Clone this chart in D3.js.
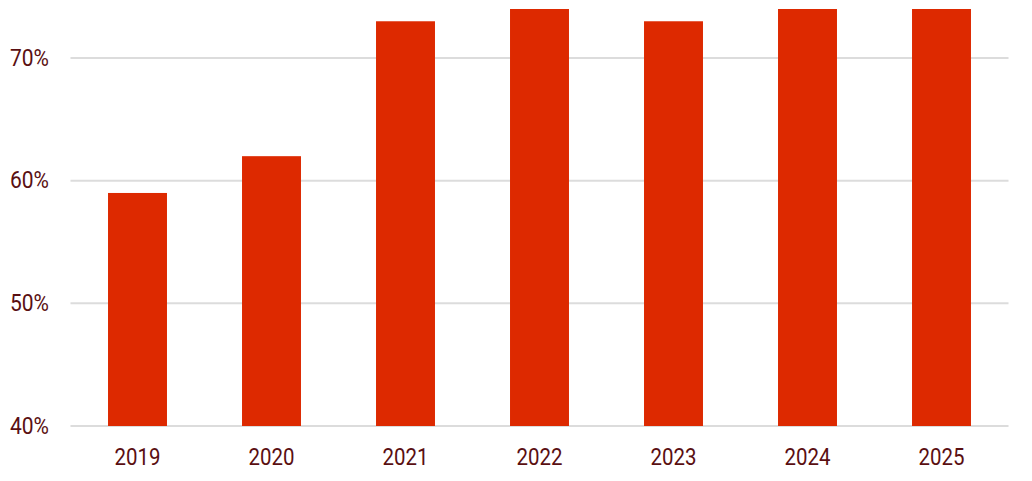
<!DOCTYPE html>
<html>
<head>
<meta charset="utf-8">
<script src="https://cdn.jsdelivr.net/npm/d3@7"></script>
<style>
  html, body { margin: 0; padding: 0; background: #ffffff; }
  svg { display: block; }
  text { font-family: Roboto, "Noto Sans", sans-serif; fill: #5a0f12; }
</style>
</head>
<body>
<svg id="chart" width="1032" height="481"></svg>
<script>
const years = ["2019", "2020", "2021", "2022", "2023", "2024", "2025"];
const shares = [59, 62, 73, 74, 73, 74, 74];
const yTicks = [40, 50, 60, 70];

const W = 1032, H = 481;
const margin = { left: 70.5, right: 23.5, top: 9, bottom: 55 };
const svg = d3.select("#chart");

const x = d3.scaleBand()
  .domain(years)
  .range([margin.left, W - margin.right])
  .paddingInner(0.56)
  .paddingOuter(0.28);

const y = d3.scaleLinear()
  .domain([40, 74])
  .range([H - margin.bottom, margin.top]);

// gridlines
svg.append("g")
  .selectAll("line")
  .data(yTicks)
  .join("line")
  .attr("x1", margin.left)
  .attr("x2", W - margin.right)
  .attr("y1", d => y(d))
  .attr("y2", d => y(d))
  .attr("stroke", "#dcdcdc")
  .attr("stroke-width", 2);

// bars
svg.append("g")
  .selectAll("rect")
  .data(years.map((yr, i) => ({ yr, v: shares[i] })))
  .join("rect")
  .attr("x", d => x(d.yr))
  .attr("width", x.bandwidth())
  .attr("y", d => y(d.v))
  .attr("height", d => y(40) - y(d.v))
  .attr("fill", "#dd2900");

// y axis labels
const yAxis = d3.axisLeft(y).tickValues(yTicks).tickFormat(d => d + "%").tickSize(0).tickPadding(0);
const gy = svg.append("g").attr("transform", `translate(49,0)`).call(yAxis);
gy.select(".domain").remove();
gy.selectAll("text")
  .attr("font-size", 24)
  .attr("dy", "0.3em")
  .attr("textLength", 39)
  .attr("lengthAdjust", "spacingAndGlyphs")
  .style("fill", "#5a0f12");

// x axis labels
const xAxis = d3.axisBottom(x).tickSize(0).tickPadding(0);
const gx = svg.append("g").attr("transform", `translate(0,${H - margin.bottom})`).call(xAxis);
gx.select(".domain").remove();
gx.selectAll("text")
  .attr("font-size", 24)
  .attr("y", 38.5)
  .attr("dy", 0)
  .attr("textLength", 46)
  .attr("lengthAdjust", "spacingAndGlyphs")
  .style("fill", "#5a0f12");
</script>
</body>
</html>
